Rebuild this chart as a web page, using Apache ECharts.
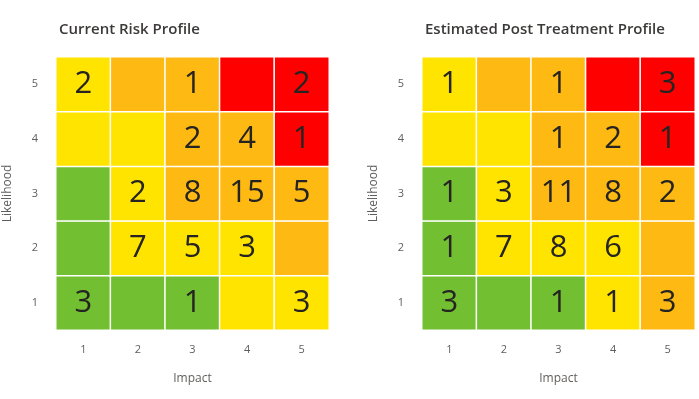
<!DOCTYPE html>
<html>
<head>
<meta charset="utf-8">
<script src="https://cdn.jsdelivr.net/npm/echarts@6/dist/echarts.min.js"></script>
<style>
    html, body { margin: 0; padding: 0; background: #fff; }
    #chart { width: 699px; height: 399px; }
</style>
</head>
<body>
<div id="chart"></div>
<script>
    // axis categories
    const impact = ['1', '2', '3', '4', '5']
    const likelihood = ['1', '2', '3', '4', '5']

    // counts per cell, rows = likelihood 1..5, columns = impact 1..5 (null = empty)
    const currentCounts = [
        [3, null, 1, null, 3],
        [null, 7, 5, 3, null],
        [null, 2, 8, 15, 5],
        [null, null, 2, 4, 1],
        [2, null, 1, null, 2]
    ]
    const postCounts = [
        [3, null, 1, 1, 3],
        [1, 7, 8, 6, null],
        [1, 3, 11, 8, 2],
        [null, null, 1, 2, 1],
        [1, null, 1, null, 3]
    ]

    // risk rating per cell: 1 low, 2 medium, 3 high, 4 extreme
    const currentLevels = [
        [1, 1, 1, 2, 2],
        [1, 2, 2, 2, 3],
        [1, 2, 3, 3, 3],
        [2, 2, 3, 3, 4],
        [2, 3, 3, 4, 4]
    ]
    const postLevels = [
        [1, 1, 1, 2, 3],
        [1, 2, 2, 2, 3],
        [1, 2, 3, 3, 3],
        [2, 2, 3, 3, 4],
        [2, 3, 3, 4, 4]
    ]

    const titles = ['Current Risk Profile', 'Estimated Post Treatment Profile']

    // [impact index, likelihood index, rating, count]
    function cells(counts, levels) {
        const out = []
        for (let y = 0; y < 5; y++) {
            for (let x = 0; x < 5; x++) {
                out.push([x, y, levels[y][x], counts[y][x] == null ? '' : counts[y][x]])
            }
        }
        return out
    }

    const font = '"Segoe UI", "Open Sans", sans-serif'
    const lefts = [56, 422]

    let chart = echarts.init(document.getElementById('chart'))
    chart.setOption({
        animation: false,
        textStyle: { fontFamily: font },
        title: titles.map((t, i) => ({
            text: t,
            left: lefts[i] - 2,
            top: 17,
            textStyle: { fontFamily: font, fontSize: 15, fontWeight: 600, color: '#3b3a39' }
        })),
        grid: lefts.map(l => ({ left: l, top: 57, width: 273, height: 273 })),
        xAxis: lefts.map((l, i) => ({
            type: 'category',
            gridIndex: i,
            data: impact,
            name: 'Impact',
            nameLocation: 'middle',
            nameGap: 43,
            nameTextStyle: { fontSize: 12, color: '#605e5c' },
            axisLine: { show: false },
            axisTick: { show: false },
            splitArea: { show: false },
            axisLabel: { fontSize: 11, color: '#605e5c', margin: 14 }
        })),
        yAxis: lefts.map((l, i) => ({
            type: 'category',
            gridIndex: i,
            data: likelihood,
            name: 'Likelihood',
            nameLocation: 'middle',
            nameGap: 42,
            nameTextStyle: { fontSize: 12, color: '#605e5c' },
            axisLine: { show: false },
            axisTick: { show: false },
            axisLabel: { fontSize: 11, color: '#605e5c', margin: 18 }
        })),
        visualMap: {
            type: 'piecewise',
            show: false,
            dimension: 2,
            seriesIndex: [0, 1],
            pieces: [
                { value: 1, color: '#72bf32' },
                { value: 2, color: '#ffe400' },
                { value: 3, color: '#feb913' },
                { value: 4, color: '#ff0000' }
            ]
        },
        series: [cells(currentCounts, currentLevels), cells(postCounts, postLevels)].map((d, i) => ({
            type: 'heatmap',
            xAxisIndex: i,
            yAxisIndex: i,
            data: d,
            itemStyle: { borderColor: '#ffffff', borderWidth: 1.5 },
            label: {
                show: true,
                formatter: p => String(p.value[3]),
                fontFamily: font,
                fontSize: 31,
                fontWeight: 500,
                color: '#252423'
            },
            emphasis: { disabled: true }
        }))
    })
</script>
</body>
</html>
